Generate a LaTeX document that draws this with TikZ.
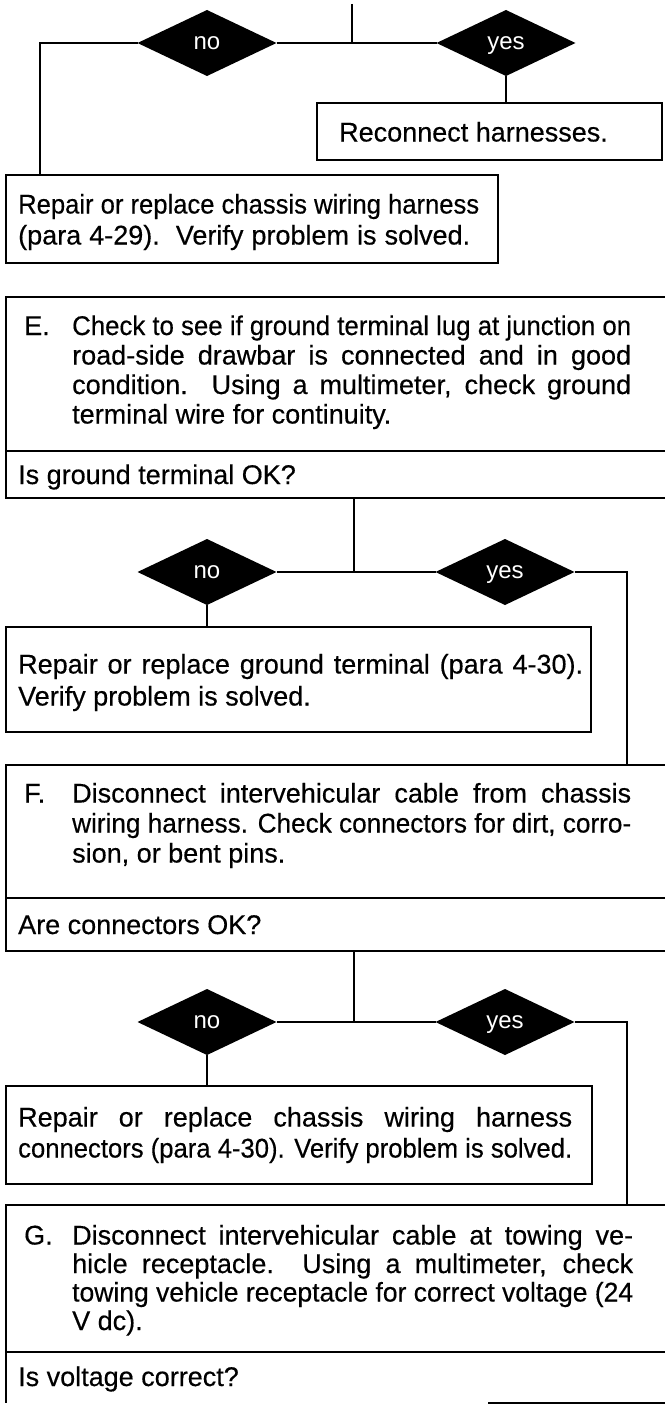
\documentclass[tikz,border=0pt]{standalone}
\usepackage{fontspec}
\setmainfont{Liberation Sans}[FakeBold=0.4]
\newfontfamily\dfamily{Liberation Sans}
\usepackage{graphicx}
\usetikzlibrary{shapes.geometric}
\newsavebox\fitbox
\newcommand\fitline[2]{\sbox\fitbox{#2}\ifdim\wd\fitbox>#1\relax\resizebox{#1}{\height}{\usebox\fitbox}\else\makebox[#1][s]{#2}\fi}
\newcommand\mtxt{\fontsize{27pt}{30pt}\selectfont}
\newcommand\dtxt{\dfamily\fontsize{24pt}{26pt}\selectfont}
\tikzset{
 boxs/.style={rectangle, draw, line width=2.3pt, inner sep=0pt, outer sep=0pt, anchor=north west},
 wire/.style={line width=2.1pt},
 rim/.style={line width=2.3pt},
 txt/.style={anchor=base west, inner sep=0pt, font=\mtxt},
 dia/.style={diamond, fill=black, minimum width=139pt, minimum height=66pt, inner sep=0pt, outer sep=0pt, text=white, font=\dtxt, text height=12.5pt, text depth=0pt},
}
\begin{document}
\begin{tikzpicture}[x=1pt,y=-1pt]
\useasboundingbox (0,0) rectangle (664,1405);
% ---------- row 1
\coordinate (top) at (352,4);
\node[dia] (no1) at (207,43) {no};
\node[dia] (yes1) at (506,43) {yes};
\node[boxs, minimum width=345pt, minimum height=57pt] (rc) at (317,103) {};
\node[boxs, minimum width=492pt, minimum height=88pt] (r1) at (6,175) {};
\coordinate (l1) at ([xshift=34pt]r1.north west);
\draw[wire] (top) -- (top |- no1.east);
\draw[wire] (no1.east) -- (yes1.west);
\draw[wire] (no1.west) -| (l1);
\draw[wire] (yes1.south) -- (yes1.south |- rc.north);
\node[txt] (rct) at (339,141.5) {Reconnect harnesses.};
\node[txt] (r1a) at (18,213.5) {\fitline{461pt}{Repair or replace chassis wiring harness}};
\node[txt] (r1b) at (18,244.5) {\fitline{452pt}{(para 4-29).\ \ Verify problem is solved.}};
% ---------- E
\node[boxs, minimum width=670pt, minimum height=154pt] (eb) at (6,297) {};
\node[boxs, minimum width=670pt, minimum height=47pt] (eq) at (6,451) {};
\node[txt] (el) at (24,335) {E.};
\node[txt] (e1) at (72,335) {\fitline{559pt}{Check to see if ground terminal lug at junction on}};
\node[txt] (e2) at (72,364.5) {\fitline{559pt}{road-side drawbar is connected and in good}};
\node[txt] (e3) at (72,394) {\fitline{559pt}{condition.\ \ Using a multimeter, check ground}};
\node[txt] (e4) at (72,423.5) {terminal wire for continuity.};
\node[txt] (eqt) at (18,484) {Is ground terminal OK?};
% ---------- row 2
\coordinate (j2) at ([xshift=348pt]eq.south west);
\node[dia] (no2) at (207,572) {no};
\node[dia] (yes2) at (505,572) {yes};
\node[boxs, minimum width=585pt, minimum height=105pt] (r2) at (6,627) {};
\draw[wire] (j2) -- (j2 |- no2.east);
\draw[wire] (no2.east) -- (yes2.west);
\draw[wire] (no2.south) -- (no2.south |- r2.north);
\node[txt] (r2a) at (18,673.5) {\fitline{565pt}{Repair or replace ground terminal (para 4-30).}};
\node[txt] (r2b) at (18,705.5) {Verify problem is solved.};
% ---------- F
\node[boxs, minimum width=670pt, minimum height=133pt] (fb) at (6,765) {};
\node[boxs, minimum width=670pt, minimum height=53pt] (fq) at (6,898) {};
\coordinate (f2) at ([xshift=621pt]fb.north west);
\draw[wire] (yes2.east) -| (f2);
\node[txt] (fl) at (24,802.5) {F.};
\node[txt] (f1) at (72,802.5) {\fitline{559pt}{Disconnect intervehicular cable from chassis}};
\node[txt] (f2t) at (72,832.5) {\fitline{559pt}{wiring harness. Check connectors for dirt, corro-}};
\node[txt] (f3) at (72,862.5) {sion, or bent pins.};
\node[txt] (fqt) at (18,934) {Are connectors OK?};
% ---------- row 3
\coordinate (j3) at ([xshift=348pt]fq.south west);
\node[dia] (no3) at (207,1022) {no};
\node[dia] (yes3) at (505,1022) {yes};
\node[boxs, minimum width=586pt, minimum height=98pt] (r3) at (6,1086) {};
\draw[wire] (j3) -- (j3 |- no3.east);
\draw[wire] (no3.east) -- (yes3.west);
\draw[wire] (no3.south) -- (no3.south |- r3.north);
\node[txt] (r3a) at (18,1126.5) {\fitline{554pt}{Repair or replace chassis wiring harness}};
\node[txt] (r3b) at (18,1157.5) {\fitline{554pt}{connectors (para 4-30). Verify problem is solved.}};
% ---------- G
\node[boxs, minimum width=670pt, minimum height=147pt] (gb) at (6,1205) {};
\node[boxs, draw=none, minimum width=670pt, minimum height=51pt] (gq) at (6,1352) {};
\draw[rim] (gq.north west) -- (gq.south west);
\draw[rim] ([xshift=482pt]gq.south west) -- (gq.south east);
\coordinate (g3) at ([xshift=621pt]gb.north west);
\draw[wire] (yes3.east) -| (g3);
\node[txt] (gl) at (24,1244.5) {G.};
\node[txt] (g1) at (72,1244.5) {\fitline{561pt}{Disconnect intervehicular cable at towing ve-}};
\node[txt] (g2) at (72,1273) {\fitline{561pt}{hicle receptacle.\ \ Using a multimeter, check}};
\node[txt] (g3t) at (72,1301.5) {\fitline{561pt}{towing vehicle receptacle for correct voltage (24}};
\node[txt] (g4) at (72,1330) {V dc).};
\node[txt] (gqt) at (18,1386) {Is voltage correct?};
\end{tikzpicture}
\end{document}
